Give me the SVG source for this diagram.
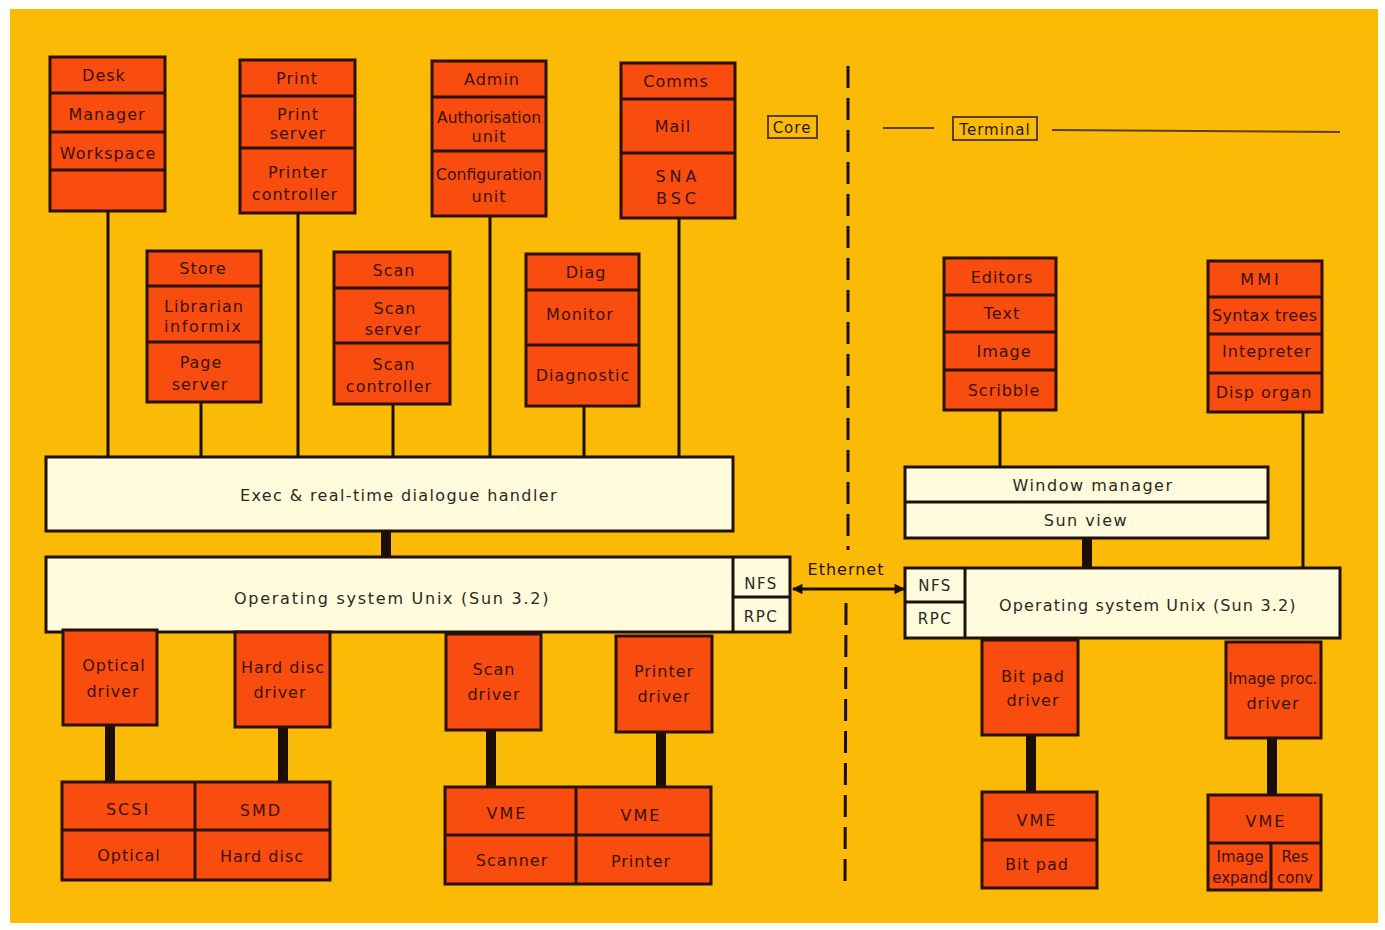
<svg xmlns="http://www.w3.org/2000/svg" width="1385" height="930" viewBox="0 0 1385 930">
<style>
.bg{fill:#fffef8}
.panel{fill:#fbba05}
.box{fill:#f94d10;stroke:#2a1006;stroke-width:3}
.cream{fill:#fffbdc;stroke:#1e1208;stroke-width:3}
.div{stroke:#2a1006;stroke-width:3;fill:none}
.t{font-family:"DejaVu Sans",sans-serif;font-size:16px;fill:#3a1208;text-anchor:middle;letter-spacing:1px}
.tc{font-family:"DejaVu Sans",sans-serif;font-size:16px;fill:#2a2a22;text-anchor:middle;letter-spacing:1.5px}
.lbl{fill:none;stroke:#5a4008;stroke-width:2}
.conn{stroke:#1a0e06;stroke-width:3;fill:none}
.thick{stroke:#1a0e06;stroke-width:10;fill:none}
.dash{stroke:#1a0e06;stroke-width:3;fill:none;stroke-dasharray:22 10}
</style>
<defs>
<marker id="ah" viewBox="0 0 10 10" refX="9" refY="5" markerWidth="4" markerHeight="3.5" orient="auto-start-reverse"><path d="M0,0 L10,5 L0,10 z" fill="#1a0e06"/></marker>
</defs>
<rect class="bg" x="0" y="0" width="1385" height="930"/>
<rect class="panel" x="10" y="9" width="1368" height="914"/>

<g id="connectors">
<line class="conn" x1="108" y1="211" x2="108" y2="457"/>
<line class="conn" x1="298" y1="213" x2="298" y2="457"/>
<line class="conn" x1="490" y1="216" x2="490" y2="457"/>
<line class="conn" x1="679" y1="218" x2="679" y2="457"/>
<line class="conn" x1="201" y1="402" x2="201" y2="457"/>
<line class="conn" x1="393" y1="404" x2="393" y2="457"/>
<line class="conn" x1="584" y1="406" x2="584" y2="457"/>
<line class="thick" x1="386" y1="531" x2="386" y2="558"/>
<line class="conn" x1="1000" y1="410" x2="1000" y2="467"/>
<line class="conn" x1="1303" y1="412" x2="1303" y2="569"/>
<line class="thick" x1="1087" y1="538" x2="1087" y2="569"/>
<line class="thick" x1="110" y1="725" x2="110" y2="782"/>
<line class="thick" x1="283" y1="727" x2="283" y2="784"/>
<line class="thick" x1="491" y1="730" x2="491" y2="787"/>
<line class="thick" x1="661" y1="732" x2="661" y2="789"/>
<line class="thick" x1="1031" y1="735" x2="1031" y2="792"/>
<line class="thick" x1="1272" y1="738" x2="1272" y2="795"/>
<line class="conn" x1="793" y1="589" x2="904" y2="589" stroke-width="4" marker-start="url(#ah)" marker-end="url(#ah)"/>
<text class="t" x="846" y="575" style="fill:#2a1006">Ethernet</text>
<path class="dash" d="M848,66 L848,550"/>
<path class="dash" d="M846,603 L845,886"/>
<line class="lbl" x1="883" y1="128" x2="934" y2="128"/>
<line class="lbl" x1="1052" y1="130" x2="1340" y2="132"/>
</g>

<g id="core-label">
<rect class="lbl" x="768" y="116" width="49" height="22"/>
<text class="t" x="792" y="133" style="fill:#2a1a06;font-size:15px">Core</text>
</g>
<g id="terminal-label">
<rect class="lbl" x="953" y="117" width="84" height="23"/>
<text class="t" x="995" y="135" style="fill:#2a1a06;font-size:15px">Terminal</text>
</g>

<g id="desk">
<rect class="box" x="50" y="57" width="115" height="154"/>
<line class="div" x1="50" y1="93" x2="165" y2="93"/>
<line class="div" x1="50" y1="132" x2="165" y2="132"/>
<line class="div" x1="50" y1="170" x2="165" y2="170"/>
<text class="t" x="104" y="81">Desk</text>
<text class="t" x="107" y="120">Manager</text>
<text class="t" x="108" y="159">Workspace</text>
</g>

<g id="print">
<rect class="box" x="240" y="60" width="115" height="153"/>
<line class="div" x1="240" y1="96" x2="355" y2="96"/>
<line class="div" x1="240" y1="148" x2="355" y2="148"/>
<text class="t" x="297" y="84">Print</text>
<text class="t" x="298" y="120">Print</text>
<text class="t" x="298" y="139">server</text>
<text class="t" x="298" y="178">Printer</text>
<text class="t" x="295" y="200">controller</text>
</g>

<g id="admin">
<rect class="box" x="432" y="61" width="114" height="155"/>
<line class="div" x1="432" y1="97" x2="546" y2="97"/>
<line class="div" x1="432" y1="151" x2="546" y2="151"/>
<text class="t" x="492" y="85">Admin</text>
<text class="t" x="489" y="123" style="font-size:15px;letter-spacing:0" textLength="104" lengthAdjust="spacingAndGlyphs">Authorisation</text>
<text class="t" x="489" y="142">unit</text>
<text class="t" x="489" y="180" style="font-size:15px;letter-spacing:0" textLength="106" lengthAdjust="spacingAndGlyphs">Configuration</text>
<text class="t" x="489" y="202">unit</text>
</g>

<g id="comms">
<rect class="box" x="621" y="63" width="114" height="155"/>
<line class="div" x1="621" y1="99" x2="735" y2="99"/>
<line class="div" x1="621" y1="153" x2="735" y2="153"/>
<text class="t" x="676" y="87">Comms</text>
<text class="t" x="673" y="132">Mail</text>
<text class="t" x="678" y="182" style="letter-spacing:4px">SNA</text>
<text class="t" x="678" y="204" style="letter-spacing:4px">BSC</text>
</g>

<g id="store">
<rect class="box" x="147" y="251" width="114" height="151"/>
<line class="div" x1="147" y1="286" x2="261" y2="286"/>
<line class="div" x1="147" y1="342" x2="261" y2="342"/>
<text class="t" x="203" y="274">Store</text>
<text class="t" x="204" y="312" textLength="80" lengthAdjust="spacing">Librarian</text>
<text class="t" x="203" y="332" textLength="78" lengthAdjust="spacing">informix</text>
<text class="t" x="201" y="368">Page</text>
<text class="t" x="200" y="390">server</text>
</g>

<g id="scan">
<rect class="box" x="334" y="252" width="116" height="152"/>
<line class="div" x1="334" y1="288" x2="450" y2="288"/>
<line class="div" x1="334" y1="343" x2="450" y2="343"/>
<text class="t" x="394" y="276">Scan</text>
<text class="t" x="395" y="314">Scan</text>
<text class="t" x="393" y="335">server</text>
<text class="t" x="394" y="370">Scan</text>
<text class="t" x="389" y="392">controller</text>
</g>

<g id="diag">
<rect class="box" x="526" y="254" width="113" height="152"/>
<line class="div" x1="526" y1="290" x2="639" y2="290"/>
<line class="div" x1="526" y1="345" x2="639" y2="345"/>
<text class="t" x="586" y="278">Diag</text>
<text class="t" x="580" y="320">Monitor</text>
<text class="t" x="583" y="381">Diagnostic</text>
</g>

<g id="exec">
<rect class="cream" x="46" y="457" width="687" height="74"/>
<text class="tc" x="399" y="501" textLength="318" lengthAdjust="spacing">Exec &amp; real-time dialogue handler</text>
</g>

<g id="os-core">
<rect class="cream" x="46" y="557" width="744" height="75"/>
<line class="div" x1="733" y1="557" x2="733" y2="632" style="stroke:#1e1208"/>
<line class="div" x1="733" y1="597" x2="790" y2="597" style="stroke:#1e1208"/>
<text class="tc" x="392" y="604" textLength="316" lengthAdjust="spacing">Operating system Unix (Sun 3.2)</text>
<text class="tc" x="761" y="589" style="font-size:15px">NFS</text>
<text class="tc" x="761" y="622" style="font-size:15px">RPC</text>
</g>

<g id="editors">
<rect class="box" x="944" y="258" width="112" height="152"/>
<line class="div" x1="944" y1="295" x2="1056" y2="295"/>
<line class="div" x1="944" y1="332" x2="1056" y2="332"/>
<line class="div" x1="944" y1="370" x2="1056" y2="370"/>
<text class="t" x="1002" y="283">Editors</text>
<text class="t" x="1002" y="319">Text</text>
<text class="t" x="1004" y="357">Image</text>
<text class="t" x="1004" y="396">Scribble</text>
</g>

<g id="mmi">
<rect class="box" x="1208" y="261" width="114" height="151"/>
<line class="div" x1="1208" y1="297" x2="1322" y2="297"/>
<line class="div" x1="1208" y1="334" x2="1322" y2="334"/>
<line class="div" x1="1208" y1="373" x2="1322" y2="373"/>
<text class="t" x="1261" y="285" style="letter-spacing:3px">MMI</text>
<text class="t" x="1265" y="321" textLength="106" lengthAdjust="spacing">Syntax  trees</text>
<text class="t" x="1267" y="357">Intepreter</text>
<text class="t" x="1264" y="398">Disp organ</text>
</g>

<g id="window-manager">
<rect class="cream" x="905" y="467" width="363" height="71"/>
<line class="div" x1="905" y1="502" x2="1268" y2="502" style="stroke:#1e1208"/>
<text class="tc" x="1093" y="491">Window manager</text>
<text class="tc" x="1086" y="526">Sun view</text>
</g>

<g id="os-terminal">
<rect class="cream" x="905" y="568" width="435" height="70"/>
<line class="div" x1="965" y1="568" x2="965" y2="638" style="stroke:#1e1208"/>
<line class="div" x1="905" y1="602" x2="965" y2="602" style="stroke:#1e1208"/>
<text class="tc" x="1148" y="611" textLength="298" lengthAdjust="spacing">Operating system Unix (Sun 3.2)</text>
<text class="tc" x="935" y="591" style="font-size:15px">NFS</text>
<text class="tc" x="935" y="624" style="font-size:15px">RPC</text>
</g>

<g id="optical-driver">
<rect class="box" x="63" y="630" width="94" height="95"/>
<text class="t" x="114" y="671">Optical</text>
<text class="t" x="113" y="697">driver</text>
</g>
<g id="hard-disc-driver">
<rect class="box" x="235" y="632" width="95" height="95"/>
<text class="t" x="283" y="673">Hard disc</text>
<text class="t" x="280" y="698">driver</text>
</g>
<g id="scsi-smd">
<rect class="box" x="62" y="782" width="268" height="98"/>
<line class="div" x1="195" y1="782" x2="195" y2="880"/>
<line class="div" x1="62" y1="830" x2="330" y2="830"/>
<text class="t" x="128" y="815" style="letter-spacing:2px">SCSI</text>
<text class="t" x="261" y="816" style="letter-spacing:2px">SMD</text>
<text class="t" x="129" y="861">Optical</text>
<text class="t" x="262" y="862">Hard disc</text>
</g>

<g id="scan-driver">
<rect class="box" x="446" y="634" width="95" height="96"/>
<text class="t" x="494" y="675">Scan</text>
<text class="t" x="494" y="700">driver</text>
</g>
<g id="printer-driver">
<rect class="box" x="616" y="636" width="96" height="96"/>
<text class="t" x="664" y="677">Printer</text>
<text class="t" x="664" y="702">driver</text>
</g>
<g id="vme-scan-print">
<rect class="box" x="445" y="787" width="266" height="97"/>
<line class="div" x1="576" y1="787" x2="576" y2="884"/>
<line class="div" x1="445" y1="835" x2="711" y2="835"/>
<text class="t" x="507" y="819" style="letter-spacing:2px">VME</text>
<text class="t" x="641" y="821" style="letter-spacing:2px">VME</text>
<text class="t" x="512" y="866">Scanner</text>
<text class="t" x="641" y="867">Printer</text>
</g>

<g id="bit-pad-driver">
<rect class="box" x="982" y="640" width="96" height="95"/>
<text class="t" x="1033" y="682">Bit pad</text>
<text class="t" x="1033" y="706">driver</text>
</g>
<g id="vme-bitpad">
<rect class="box" x="982" y="792" width="115" height="96"/>
<line class="div" x1="982" y1="840" x2="1097" y2="840"/>
<text class="t" x="1037" y="826" style="letter-spacing:2px">VME</text>
<text class="t" x="1037" y="870">Bit pad</text>
</g>

<g id="image-proc-driver">
<rect class="box" x="1226" y="642" width="95" height="96"/>
<text class="t" x="1273" y="684" style="font-size:15px;letter-spacing:0">Image proc.</text>
<text class="t" x="1273" y="709">driver</text>
</g>
<g id="vme-image">
<rect class="box" x="1208" y="795" width="113" height="95"/>
<line class="div" x1="1208" y1="843" x2="1321" y2="843"/>
<line class="div" x1="1271" y1="843" x2="1271" y2="890"/>
<text class="t" x="1266" y="827" style="letter-spacing:2px">VME</text>
<text class="t" x="1240" y="862" style="font-size:15px;letter-spacing:0">Image</text>
<text class="t" x="1240" y="883" style="font-size:15px;letter-spacing:0">expand</text>
<text class="t" x="1295" y="862" style="font-size:15px;letter-spacing:0">Res</text>
<text class="t" x="1295" y="883" style="font-size:15px;letter-spacing:0">conv</text>
</g>
</svg>
